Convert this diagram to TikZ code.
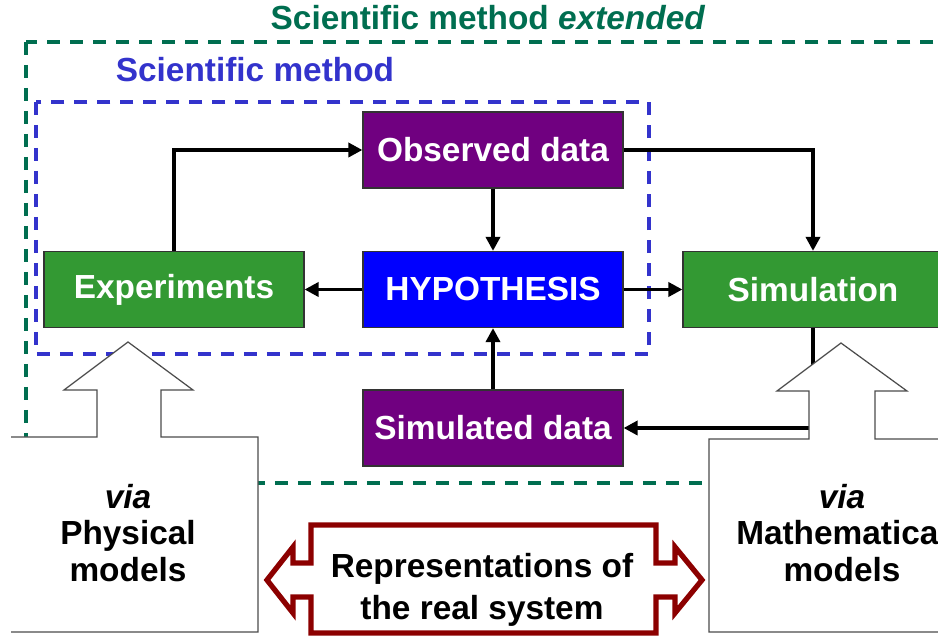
\documentclass[tikz,border=0pt]{standalone}
\usepackage{fontspec}
\setmainfont{Liberation Sans}
\usepackage{tikz}
\usetikzlibrary{arrows.meta, positioning}

\definecolor{extgreen}{RGB}{0,110,80}
\definecolor{methblue}{RGB}{51,51,204}
\definecolor{boxgreen}{RGB}{51,153,51}
\definecolor{boxpurple}{RGB}{112,0,128}
\definecolor{hypblue}{RGB}{0,0,255}
\definecolor{repred}{RGB}{140,0,0}

\tikzset{
  bigfont/.style={font=\fontsize{19}{21}\selectfont\bfseries},
  stepbox/.style={bigfont, draw=black!80, line width=0.7pt, text=white,
    minimum width=5.2cm, minimum height=1.52cm, inner sep=0pt},
  flow/.style={line width=2.2pt, -{Triangle[length=2.8mm,width=2.8mm]}},
  dashframe/.style={line width=2.3pt, dash pattern=on 0.26cm off 0.2cm},
  modelarrow/.style={draw=black!70, fill=white, line width=0.7pt},
}

\begin{document}
\begin{tikzpicture}[x=0.02cm, y=-0.02cm]
      \useasboundingbox (0,0) rectangle (938,638);
      \clip (0,0) rectangle (938,638);
      % frames
      \draw[dashframe, extgreen] (26,42) rectangle (970,483);
      \draw[dashframe, methblue] (36,102) rectangle (649,354);
      \node[bigfont, text=extgreen, anchor=base] (exttitle) at (488,30)
      {Scientific method \textit{extended}};
      \node[bigfont, text=methblue, anchor=base] (methtitle) at (255,82)
      {Scientific method};
      % steps
      \node[stepbox, fill=boxpurple] (obs) at (493,150) {Observed data};
      \node[stepbox, fill=hypblue] (hyp) at (493,289.5) {HYPOTHESIS};
      \node[stepbox, fill=boxgreen] (exp) at (174,289.5) {Experiments};
      \node[stepbox, fill=boxgreen] (sim) at (813,289.5) {Simulation};
      \node[stepbox, fill=boxpurple] (simd) at (493,428) {Simulated data};
      \draw[flow] (exp.north) |- (obs.west);
      \draw[flow] (obs.east) -| (sim.north);
      \draw[flow] (obs) -- (hyp);
      \draw[flow] (hyp) -- (exp);
      \draw[flow] (hyp) -- (sim);
      \draw[flow] (simd) -- (hyp);
      \draw[flow] (sim.south) |- (simd.east);
      % models
      \draw[modelarrow] (11,437) -- (97,437) -- (97,390) -- (64,390)
      -- (128,342) -- (193,390) -- (161,390) -- (161,437) -- (258,437)
      -- (258,632) -- (11,632);
      \draw[modelarrow] (960,439) -- (875,439) -- (875,391) -- (907,391)
      -- (841,343) -- (777,391) -- (809,391) -- (809,439) -- (709,439)
      -- (709,632) -- (960,632);
      \node[bigfont, align=center, font=\fontsize{19}{20.7}\selectfont\bfseries]
      (phys) at (128,533) {\textit{via}\\Physical\\models};
      \node[bigfont, align=center, font=\fontsize{19}{20.7}\selectfont\bfseries]
      (math) at (842,533) {\textit{via}\\Mathematical\\models};
      % real system
      \draw[repred, line width=3pt, line join=miter, fill=white]
      (311,525) -- (656,525) -- (656,563) -- (675,563) -- (675,547)
      -- (702,580) -- (675,613) -- (675,597) -- (656,597) -- (656,633)
      -- (311,633) -- (311,597) -- (293,597) -- (293,613) -- (267,580)
      -- (293,547) -- (293,563) -- (311,563) -- cycle;
      \node[bigfont, align=center, font=\fontsize{19}{23.8}\selectfont\bfseries]
      (real) at (482,590) {Representations of\\the real system};
\end{tikzpicture}
\end{document}
